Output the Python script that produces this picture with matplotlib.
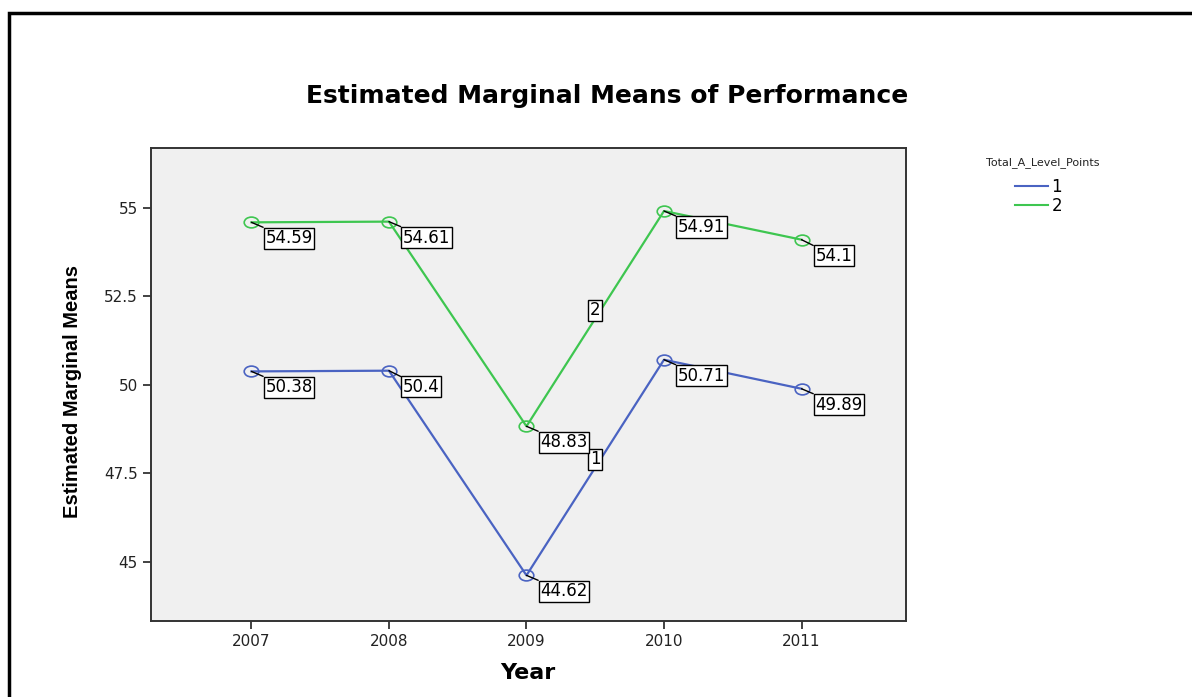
import numpy as np
import matplotlib.pyplot as plt
from matplotlib.patches import Rectangle
from matplotlib.lines import Line2D
from matplotlib.path import Path
from matplotlib.transforms import Affine2D

plt.rcParams['font.family'] = ['DejaVu Sans']

### data
years   = [2007, 2008, 2009, 2010, 2011]
group_1 = [50.38, 50.40, 44.62, 50.71, 49.89]
group_2 = [54.59, 54.61, 48.83, 54.91, 54.10]
y_ticks = [45, 47.5, 50, 52.5, 55]
y_tick_labels = ["45", "47.5", "50", "52.5", "55"]

blue  = "#4a63c2"
green = "#3ec650"

# the source picture is stretched sideways, so the circles are ellipses
ellipse = Affine2D().scale(1.35, 1.0).transform_path(Path.unit_circle())

fig = plt.figure(figsize=(11.92, 6.97), dpi=100)
ax = fig.add_axes([0.1267, 0.1090, 0.6334, 0.6787])
ax.set_facecolor("#f0f0f0")

# outer frame (only top & left show in the crop)
fig.patches.append(Rectangle((9/1192, -0.1), 1.2, 1 - 13/697 + 0.1,
                             transform=fig.transFigure, fill=False,
                             edgecolor="black", linewidth=2.5))

box = dict(boxstyle="square,pad=0.1", facecolor="white", edgecolor="black", linewidth=1)

for vals, col, tag in [(group_1, blue, "1"), (group_2, green, "2")]:
    ax.plot(years, vals, color=col, linewidth=1.6, marker=ellipse, markersize=10.5,
            markerfacecolor="none", markeredgecolor=col, markeredgewidth=1.2)
    for x, v in zip(years, vals):
        ax.annotate(f"{v:g}", xy=(x, v), xytext=(10, -5), textcoords="offset points",
                    ha="left", va="top", fontsize=12, bbox=box,
                    arrowprops=dict(arrowstyle="-", color="black", lw=1,
                                    shrinkA=0, shrinkB=0))
    # series tag halfway between 2009 and 2010
    xm = (years[2] + years[3]) / 2
    ym = (vals[2] + vals[3]) / 2
    ax.annotate(tag, xy=(xm, ym), xytext=(0, 6), textcoords="offset points",
                ha="center", va="center", fontsize=12, bbox=box)

ax.set_xlim(2006.27, 2011.76)
ax.set_ylim(43.33, 56.69)
ax.set_xticks(years)
ax.set_xticklabels([str(y) for y in years])
ax.set_yticks(y_ticks)
ax.set_yticklabels(y_tick_labels)
ax.tick_params(axis="both", direction="out", length=6, width=1.3, colors="#333333",
               labelsize=11, labelcolor="#222222")
for s in ax.spines.values():
    s.set_linewidth(1.4)
    s.set_color("#333333")

fig.text(0.509, 0.862, "Estimated Marginal Means of Performance", ha="center", va="center",
         fontsize=18, fontweight="bold")
fig.text(0.443, 0.035, "Year", ha="center", va="center", fontsize=16, fontweight="bold")
fig.text(0.061, 0.438, "Estimated Marginal Means", ha="center", va="center", rotation=90,
         fontsize=14.5, fontweight="bold",
         family=["Liberation Sans Narrow", "Liberation Sans", "DejaVu Sans"])

# legend
fig.text(1043/1192, 1 - 163/697, "Total_A_Level_Points", ha="center", va="center",
         fontsize=8, color="#222222")
handles = [Line2D([], [], color=blue, lw=1.5), Line2D([], [], color=green, lw=1.5)]
fig.legend(handles, ["1", "2"], loc="upper left", bbox_to_anchor=(0.8456, 0.7547),
           borderaxespad=0, frameon=False, fontsize=12, handlelength=2.0,
           handletextpad=0.2, labelspacing=0.1)

plt.savefig("out.png", dpi=100)
